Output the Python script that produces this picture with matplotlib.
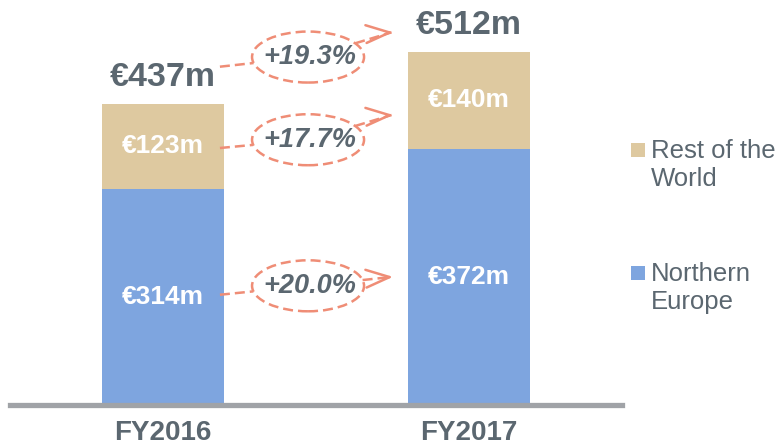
import matplotlib
matplotlib.use('Agg')
import matplotlib.pyplot as plt
from matplotlib.patches import Ellipse, Rectangle, FancyArrowPatch
import numpy as np

plt.rcParams['font.family'] = ['Liberation Sans', 'DejaVu Sans']

# ── data ──────────────────────────────────────────────
years = ['FY2016', 'FY2017']
northern_europe = [314, 372]
rest_of_world = [123, 140]
totals = [437, 512]
growth = ['+20.0%', '+17.7%', '+19.3%']   # NE, RoW, total

# ── style ─────────────────────────────────────────────
C_ROW = '#DEC9A0'
C_NE = '#7EA5DF'
C_TXT = '#5B6770'
C_ARR = '#EF8D76'
C_AX = '#A0A3A7'

fig = plt.figure(figsize=(7.81, 4.47), dpi=100)
fig.patch.set_facecolor('white')
# baseline at ~405px from top; px -> data: 0.689 px per unit
ax = fig.add_axes([10/781, 42/447, 612/781, 405/447])
ax.set_xlim(-0.5, 1.5)
ax.set_ylim(0, 405/0.689)

x = np.arange(len(years))
w = 0.4
ax.bar(x, northern_europe, w, color=C_NE, zorder=1)
ax.bar(x, rest_of_world, w, bottom=northern_europe, color=C_ROW, zorder=1)

for i in range(len(years)):
    ax.text(x[i], northern_europe[i]/2, f'€{northern_europe[i]}m', ha='center', va='center',
            color='white', fontsize=19, fontweight='bold')
    ax.text(x[i], northern_europe[i] + rest_of_world[i]/2, f'€{rest_of_world[i]}m',
            ha='center', va='center', color='white', fontsize=19, fontweight='bold')
    ax.annotate(f'€{totals[i]}m', (x[i], totals[i]), xytext=(0, 8), textcoords='offset points',
                ha='center', va='bottom', color=C_TXT, fontsize=24.5, fontweight='bold')

# axis
for s in ['top', 'left', 'right']:
    ax.spines[s].set_visible(False)
ax.spines['bottom'].set_color(C_AX)
ax.spines['bottom'].set_linewidth(3.8)
ax.spines['bottom'].set_zorder(3)
ax.set_yticks([])
ax.set_xticks(x, years)
ax.tick_params(axis='x', length=0, pad=11)
for t in ax.get_xticklabels():
    t.set_fontsize(20); t.set_fontweight('bold'); t.set_color(C_TXT)

# ── growth bubbles: (start y, ellipse centre y, tip y) in data units ──
arrows = [(160, 173, 186), (373, 385, 421), (491, 505, 541)]
x0, cx, xt = 0.186, 0.474, 0.752
ew, eh = 0.366, 74
dash = dict(color=C_ARR, lw=1.8, dashes=(4, 2), solid_capstyle='butt')

def edge(px, py, cy):
    dx, dy = px - cx, py - cy
    t = 1 / np.sqrt((dx/(ew/2))**2 + (dy/(eh/2))**2)
    return cx + dx*t, cy + dy*t

for (ys, yc, yt), g in zip(arrows, growth):
    ax.add_patch(Ellipse((cx, yc), ew, eh, fill=False, edgecolor=C_ARR, lw=1.8,
                         linestyle=(0, (4, 2)), zorder=4))
    lx, ly = edge(x0, ys, yc)
    ax.plot([x0, lx], [ys, ly], zorder=4, **dash)
    rx, ry = edge(xt, yt, yc)
    ax.plot([rx, xt - 0.005], [ry, yt - 0.1], zorder=4, **dash)
    ax.add_patch(FancyArrowPatch((xt - 0.02, yt - 0.6), (xt, yt), arrowstyle='->,head_length=0.85,head_width=0.32',
                                 mutation_scale=20, color=C_ARR, lw=1.8, shrinkA=0, shrinkB=0, zorder=4))
    ax.text(cx + 0.005, yc, g, ha='center', va='center', color=C_TXT, fontsize=19.5,
            fontweight='bold', fontstyle='italic', zorder=5)

# ── legend ────────────────────────────────────────────
for (label, col, ytop) in [('Rest of the\nWorld', C_ROW, 143), ('Northern\nEurope', C_NE, 266)]:
    fig.patches.append(Rectangle((631/781, 1 - (ytop + 14)/447), 14/781, 14/447,
                                 transform=fig.transFigure, facecolor=col, edgecolor='none'))
    fig.text(651/781, 1 - (ytop - 4)/447, label, ha='left', va='top', color=C_TXT,
             fontsize=18.5, linespacing=1.2)

fig.savefig('out.png', dpi=100, facecolor='white')
